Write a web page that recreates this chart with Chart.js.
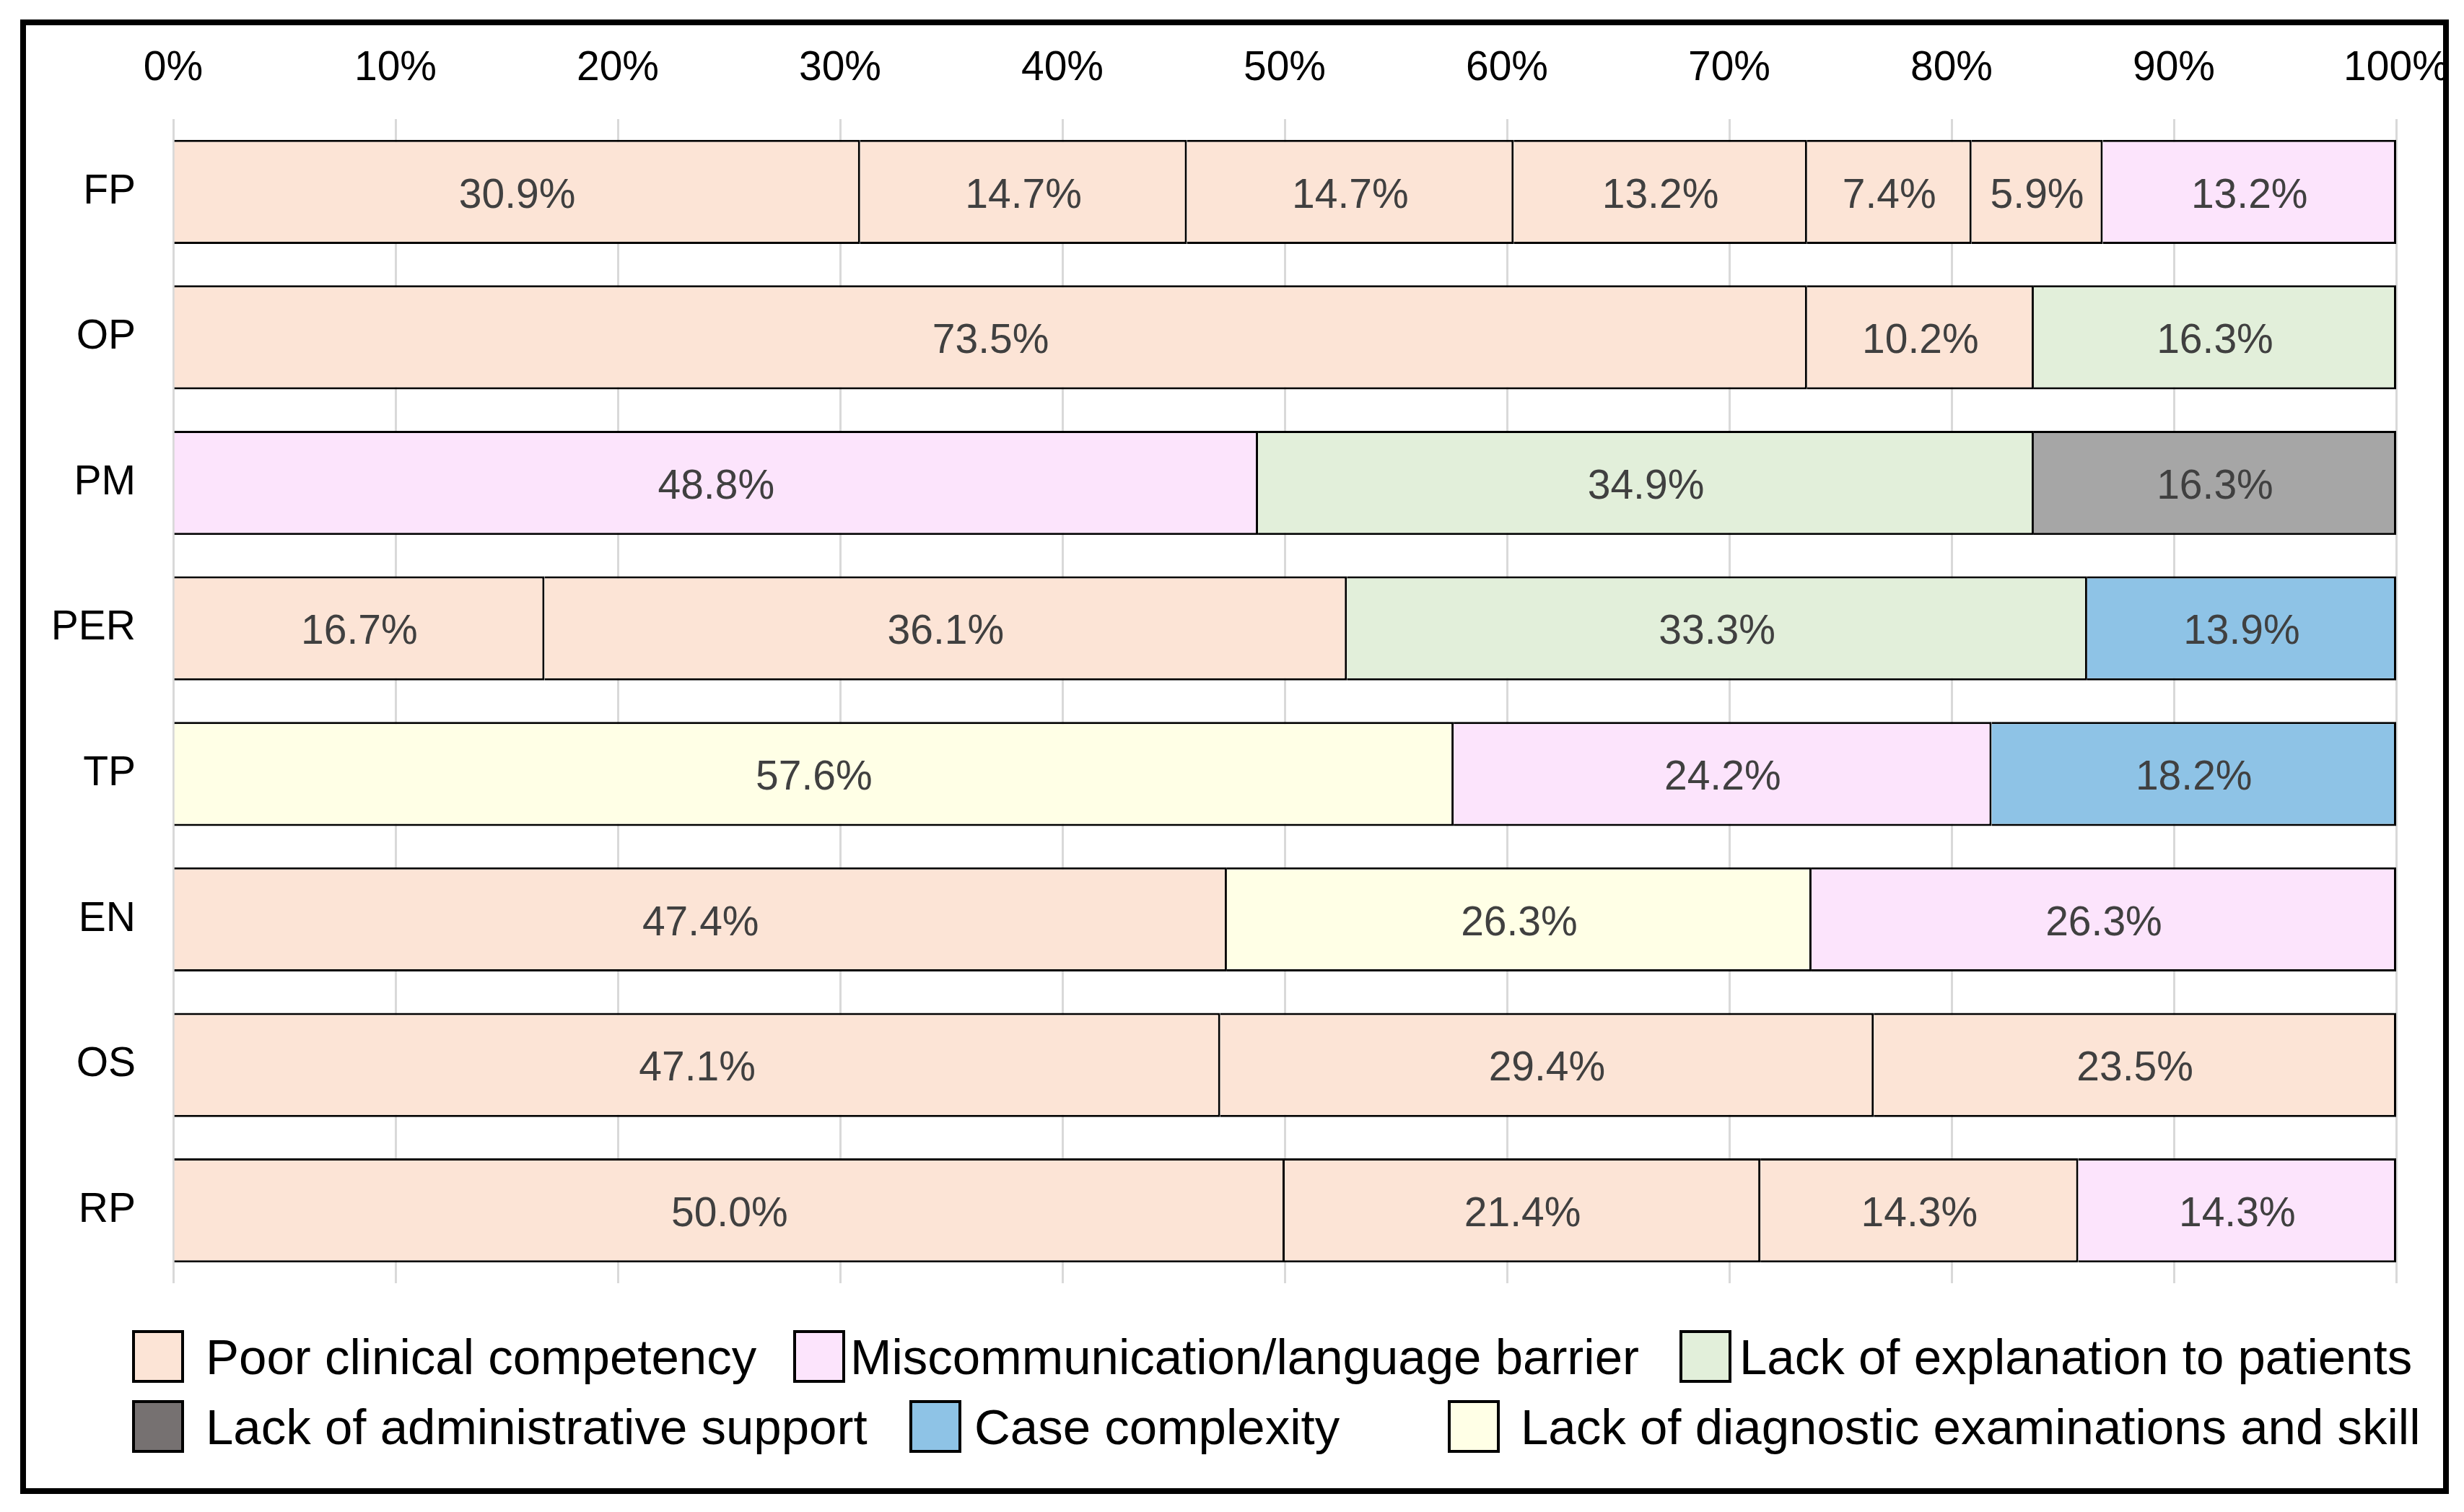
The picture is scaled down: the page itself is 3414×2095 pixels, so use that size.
<!DOCTYPE html>
<html>
<head>
<meta charset="utf-8">
<script src="https://cdn.jsdelivr.net/npm/chart.js@4/dist/chart.umd.min.js"></script>
<style>
  html, body { margin: 0; padding: 0; background: #ffffff; }
  body { width: 3414px; height: 2095px; position: relative; overflow: hidden; font-family: "Liberation Sans", Arial, sans-serif; }
  #wrap { position: absolute; left: 0; top: 0; width: 3414px; height: 2095px; }
  #frame { position: absolute; left: 28px; top: 27px; width: 3365px; height: 2043px; box-sizing: border-box; border: 8px solid #000; pointer-events: none; z-index: 5; }
  .sw { position: absolute; width: 72px; height: 73px; box-sizing: border-box; border: 4px solid #000; }
  .lt { position: absolute; font-size: 69px; line-height: 80px; color: #000; white-space: nowrap; }
</style>
</head>
<body>
<div id="wrap"><canvas id="c" width="3414" height="2095"></canvas></div>
<div id="legend"></div>
<div id="frame"></div>
<script>
// ---- data ----
const categories = ['FP', 'OP', 'PM', 'PER', 'TP', 'EN', 'OS', 'RP'];
const causeNames = [
  'Poor clinical competency',
  'Miscommunication/language barrier',
  'Lack of explanation to patients',
  'Lack of administrative support',
  'Case complexity',
  'Lack of diagnostic examinations and skill'
];
const xTicks = [0, 10, 20, 30, 40, 50, 60, 70, 80, 90, 100];

// segment values, left to right within each bar
const seg1 = [30.9, 73.5, 48.8, 16.7, 57.6, 47.4, 47.1, 50.0];
const seg2 = [14.7, 10.2, 34.9, 36.1, 24.2, 26.3, 29.4, 21.4];
const seg3 = [14.7, 16.3, 16.3, 33.3, 18.2, 26.3, 23.5, 14.3];
const seg4 = [13.2, null, null, 13.9, null, null, null, 14.3];
const seg5 = [7.4, null, null, null, null, null, null, null];
const seg6 = [5.9, null, null, null, null, null, null, null];
const seg7 = [13.2, null, null, null, null, null, null, null];

// cause index of each segment (index into causeNames)
const cause1 = [0, 0, 1, 0, 5, 0, 0, 0];
const cause2 = [0, 0, 2, 0, 1, 5, 0, 0];
const cause3 = [0, 2, 3, 2, 4, 1, 0, 0];
const cause4 = [0, null, null, 4, null, null, null, 1];
const cause5 = [0, null, null, null, null, null, null, null];
const cause6 = [0, null, null, null, null, null, null, null];
const cause7 = [1, null, null, null, null, null, null, null];

// ---- styles ----
const barColors = ['#FCE4D6', '#FCE4FC', '#E2EFDA', '#A6A6A6', '#8EC3E6', '#FFFFE6'];
const swatchColors = ['#FCE4D6', '#FCE4FC', '#E2EFDA', '#767171', '#8EC3E6', '#FFFFE6'];
const FONT = '"Liberation Sans", Arial, sans-serif';

const segs = [seg1, seg2, seg3, seg4, seg5, seg6, seg7];
const causes = [cause1, cause2, cause3, cause4, cause5, cause6, cause7];

const datasets = segs.map((s, i) => ({
  label: 'Segment ' + (i + 1),
  data: s,
  backgroundColor: causes[i].map(c => c === null ? 'rgba(0,0,0,0)' : barColors[c]),
  borderColor: '#000000',
  borderWidth: 3,
  barPercentage: 0.715,
  categoryPercentage: 1.0
}));

const labelPlugin = {
  id: 'segLabels',
  afterDatasetsDraw(chart) {
    const ctx = chart.ctx;
    ctx.save();
    ctx.font = '57px ' + FONT;
    ctx.fillStyle = '#404040';
    ctx.textAlign = 'center';
    ctx.textBaseline = 'middle';
    chart.data.datasets.forEach((ds, di) => {
      const meta = chart.getDatasetMeta(di);
      meta.data.forEach((el, i) => {
        const v = ds.data[i];
        if (v === null || v === undefined) return;
        const p = el.getCenterPoint();
        ctx.fillText(v.toFixed(1) + '%', p.x, p.y + 6);
      });
    });
    ctx.restore();
  }
};

new Chart(document.getElementById('c'), {
  type: 'bar',
  data: { labels: categories, datasets: datasets },
  options: {
    indexAxis: 'y',
    responsive: false,
    animation: false,
    devicePixelRatio: 1,
    layout: { padding: { left: 0, top: 0, right: 94, bottom: 317 } },
    plugins: { legend: { display: false }, tooltip: { enabled: false } },
    scales: {
      x: {
        position: 'top',
        stacked: true,
        min: 0,
        max: 100,
        afterBuildTicks(scale) { scale.ticks = xTicks.map(v => ({ value: v })); },
        afterFit(scale) { scale.height = 165; scale.paddingLeft = 0; scale.paddingRight = 0; },
        ticks: {
          callback: v => v + '%',
          color: '#000000',
          font: { family: FONT, size: 57 },
          padding: 36,
          maxRotation: 0,
          autoSkip: false
        },
        grid: { color: '#D9D9D9', lineWidth: 3, drawTicks: false },
        border: { display: false }
      },
      y: {
        stacked: true,
        afterFit(scale) { scale.width = 240; scale.paddingTop = 0; scale.paddingBottom = 0; },
        ticks: {
          color: '#000000',
          font: { family: FONT, size: 57 },
          padding: 52
        },
        grid: { display: false, drawTicks: false },
        border: { display: false }
      }
    }
  },
  plugins: [labelPlugin]
});

// ---- legend (HTML) ----
const legendLayout = [
  { sw: 183, tx: 285, top: 1843 },
  { sw: 1099, tx: 1178, top: 1843 },
  { sw: 2327, tx: 2410, top: 1843 },
  { sw: 183, tx: 285, top: 1940 },
  { sw: 1260, tx: 1350, top: 1940 },
  { sw: 2006, tx: 2107, top: 1940 }
];
const leg = document.getElementById('legend');
causeNames.forEach((name, i) => {
  const L = legendLayout[i];
  const sw = document.createElement('div');
  sw.className = 'sw';
  sw.style.left = L.sw + 'px';
  sw.style.top = L.top + 'px';
  sw.style.background = swatchColors[i];
  leg.appendChild(sw);
  const t = document.createElement('div');
  t.className = 'lt';
  t.style.left = L.tx + 'px';
  t.style.top = (L.top - 2) + 'px';
  t.textContent = name;
  leg.appendChild(t);
});
</script>
</body>
</html>
